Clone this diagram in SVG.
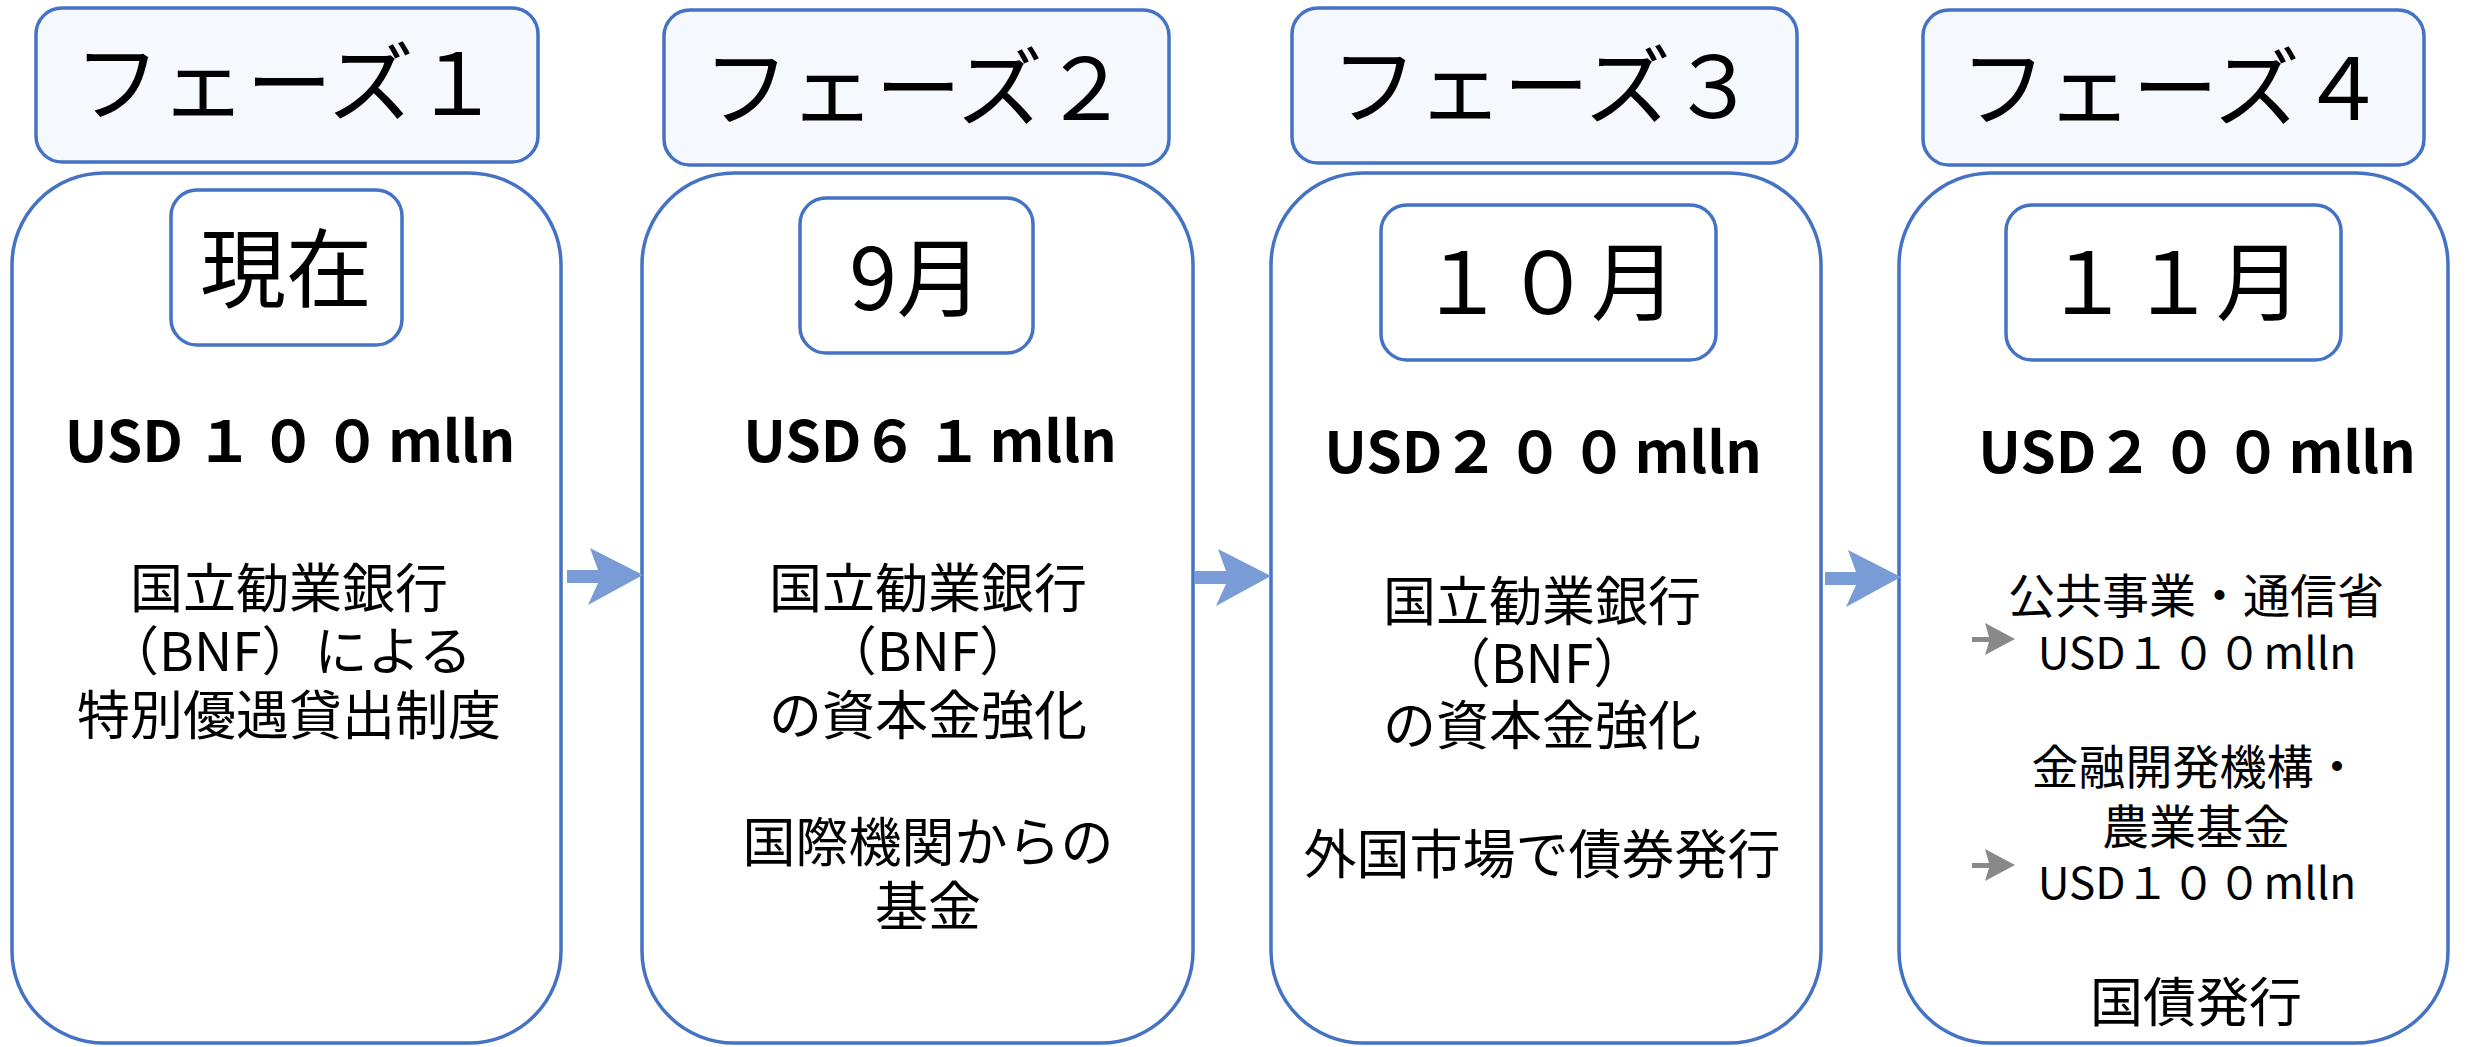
<svg xmlns="http://www.w3.org/2000/svg" width="2468" height="1047" viewBox="0 0 2468 1047">
<style>
text{font-family:"Noto Sans CJK JP","Noto Sans",sans-serif;fill:#000;text-anchor:middle}
.hdr{fill:#F5F9FD;stroke:#4472C4;stroke-width:3.5}
.big{fill:#FFFFFF;stroke:#4472C4;stroke-width:3.5}
.date{fill:#FFFFFF;stroke:#4472C4;stroke-width:3.5}
.ht{font-size:86px}
.dt{font-size:86px}
.usd{font-size:57px;font-weight:bold}
.dg{letter-spacing:7px}
.bt{font-size:53px}
.st{font-size:47px}
.su{font-size:44px}
.dg2{letter-spacing:2px}
.barrow{fill:#7A9CD6}
.garrow{fill:#898989}
</style>
<defs>
<polygon id="bluearrow" points="0,35 31,35 23,13 76,40 21,70 31,48 0,48"/>
<polygon id="grayarrow" points="0,22 17,22 13,8 43,24 13,40 17,27 0,27"/>
</defs>
<g id="phase1">
<rect class="big" x="12" y="173" width="549" height="870" rx="92"/>
<rect class="hdr" x="36" y="8" width="502" height="154" rx="26"/>
<text class="ht" x="287" y="115">フェーズ１</text>
<rect class="date" x="171" y="190" width="231" height="155" rx="26"/>
<text class="dt" x="286" y="301">現在</text>
<text class="usd" x="290" y="462">USD <tspan class="dg">１００</tspan>mlln</text>
<text class="bt" x="289" y="608">国立勧業銀行</text>
<text class="bt" x="289" y="671">（BNF）による</text>
<text class="bt" x="289" y="735">特別優遇貸出制度</text>
</g>
<g id="phase2">
<rect class="big" x="642" y="173" width="551" height="870" rx="92"/>
<rect class="hdr" x="664" y="10" width="505" height="155" rx="26"/>
<text class="ht" x="916" y="120">フェーズ２</text>
<rect class="date" x="800" y="198" width="233" height="155" rx="26"/>
<text class="dt" x="916" y="310">9月</text>
<text class="usd" x="930" y="462">USD<tspan class="dg">６１</tspan>mlln</text>
<text class="bt" x="928" y="608">国立勧業銀行</text>
<text class="bt" x="928" y="671">（BNF）</text>
<text class="bt" x="928" y="735">の資本金強化</text>
<text class="bt" x="928" y="862">国際機関からの</text>
<text class="bt" x="928" y="926">基金</text>
</g>
<g id="phase3">
<rect class="big" x="1271" y="173" width="550" height="870" rx="92"/>
<rect class="hdr" x="1292" y="8" width="505" height="155" rx="26"/>
<text class="ht" x="1544" y="118">フェーズ３</text>
<rect class="date" x="1381" y="205" width="335" height="155" rx="26"/>
<text class="dt" x="1548" y="314">１０月</text>
<text class="usd" x="1543" y="473">USD<tspan class="dg">２００</tspan>mlln</text>
<text class="bt" x="1542" y="621">国立勧業銀行</text>
<text class="bt" x="1542" y="683">（BNF）</text>
<text class="bt" x="1542" y="745">の資本金強化</text>
<text class="bt" x="1542" y="874">外国市場で債券発行</text>
</g>
<g id="phase4">
<rect class="big" x="1899" y="173" width="549" height="870" rx="92"/>
<rect class="hdr" x="1923" y="10" width="501" height="155" rx="26"/>
<text class="ht" x="2173" y="120">フェーズ４</text>
<rect class="date" x="2006" y="205" width="335" height="155" rx="26"/>
<text class="dt" x="2173" y="314">１１月</text>
<text class="usd" x="2197" y="473">USD<tspan class="dg">２００</tspan>mlln</text>
<text class="st" x="2196" y="613">公共事業・通信省</text>
<use href="#grayarrow" class="garrow" x="1972" y="615"/>
<text class="su" x="2197" y="669">USD<tspan class="dg2">１００</tspan>mlln</text>
<text class="st" x="2196" y="784">金融開発機構・</text>
<text class="st" x="2196" y="844">農業基金</text>
<use href="#grayarrow" class="garrow" x="1972" y="841"/>
<text class="su" x="2197" y="899">USD<tspan class="dg2">１００</tspan>mlln</text>
<text class="bt" x="2196" y="1022">国債発行</text>
</g>
<g id="connectors">
<use href="#bluearrow" class="barrow" x="567" y="535"/>
<use href="#bluearrow" class="barrow" x="1195" y="536"/>
<use href="#bluearrow" class="barrow" x="1825" y="537"/>
</g>
</svg>
